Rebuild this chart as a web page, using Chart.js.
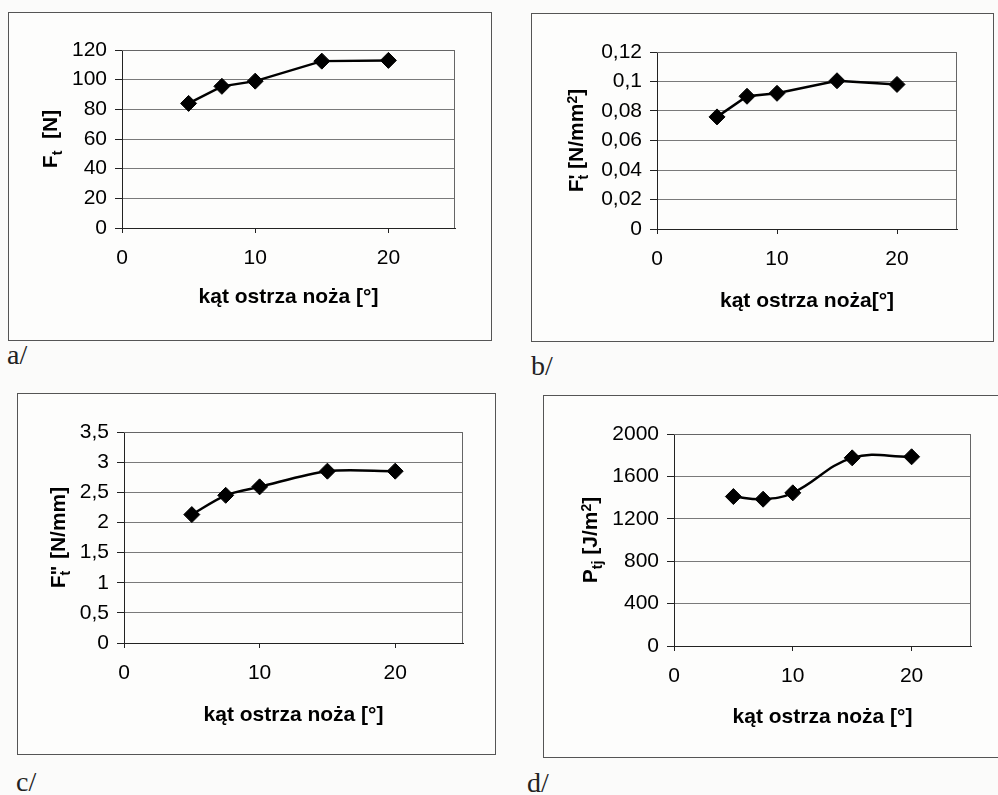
<!DOCTYPE html>
<html>
<head>
<meta charset="utf-8">
<script src="https://cdn.jsdelivr.net/npm/chart.js@4.4.0/dist/chart.umd.min.js"></script>
<style>
  html, body { margin: 0; padding: 0; background: #fbfbfa; }
  body { width: 998px; height: 795px; position: relative; overflow: hidden; }
  .ramka { position: absolute; border: 1px solid #555; background: #fdfdfc; }
  .ramka canvas { display: block; }
  .litera { position: absolute; font: 28px 'Liberation Serif', 'Times New Roman', serif; color: #222; line-height: 1; }
</style>
</head>
<body>
<div class="litera" style="left:7px;top:341px">a/</div>
<div class="litera" style="left:531px;top:352px">b/</div>
<div class="litera" style="left:16px;top:768px">c/</div>
<div class="litera" style="left:527px;top:769px">d/</div>

<script>
// kąt ostrza noża [°]
const katy = [5, 7.5, 10, 15, 20];
const xTicks = [0, 10, 20];
const xMax = 25;

// a/ Ft [N]
const silaFt = [84, 95.5, 99, 112.5, 113];
const ticksA = [0, 20, 40, 60, 80, 100, 120];

// b/ Ft' [N/mm2]
const silaFt1 = [0.076, 0.090, 0.092, 0.1005, 0.098];
const ticksB = [0, 0.02, 0.04, 0.06, 0.08, 0.1, 0.12];

// c/ Ft'' [N/mm]
const silaFt2 = [2.13, 2.45, 2.59, 2.85, 2.85];
const ticksC = [0, 0.5, 1, 1.5, 2, 2.5, 3, 3.5];

// d/ Ptj [J/m2]
const pracaPtj = [1410, 1385, 1445, 1775, 1785];
const ticksD = [0, 400, 800, 1200, 1600, 2000];

const rodzina = "'Liberation Sans', Arial, sans-serif";
const przecinek = v => String(v).replace('.', ',');

// tytuł osi Y z indeksami dolnymi / górnymi
const yTytul = {
  id: 'yTytul',
  afterDraw(chart, args, opts) {
    const ctx = chart.ctx;
    const a = chart.chartArea;
    const font = p => 'bold ' + (p.s ? 14 : 21) + 'px ' + rodzina;
    let w = 0;
    opts.parts.forEach(p => {
      ctx.font = font(p);
      p.w = ctx.measureText(p.t).width;
      if (!p.keep) w += p.w;
    });
    ctx.save();
    ctx.translate(opts.x, (a.top + a.bottom) / 2);
    ctx.rotate(-Math.PI / 2);
    ctx.fillStyle = '#000';
    ctx.textBaseline = 'alphabetic';
    let x = -w / 2;
    opts.parts.forEach(p => {
      ctx.font = font(p);
      const dy = p.s === 'sub' ? 5 : p.s === 'sup' ? -6 : 0;
      ctx.fillText(p.t, x, dy);
      if (!p.keep) x += p.w;
    });
    ctx.restore();
  }
};

// szara ramka obszaru wykresu
const obszarRamka = {
  id: 'obszarRamka',
  beforeDatasetsDraw(chart) {
    const ctx = chart.ctx;
    const a = chart.chartArea;
    ctx.save();
    ctx.strokeStyle = '#666';
    ctx.lineWidth = 1;
    ctx.beginPath();
    ctx.moveTo(a.left, a.top + 0.5);
    ctx.lineTo(a.right - 0.5, a.top + 0.5);
    ctx.lineTo(a.right - 0.5, a.bottom);
    ctx.stroke();
    ctx.restore();
  }
};

function wykres(o) {
  const [x0, y0, x1, y1] = o.ramka;
  const [px0, py0, px1, py1] = o.obszar;
  const w = x1 - x0 - 1, h = y1 - y0 - 1;
  const box = document.createElement('div');
  box.className = 'ramka';
  box.style.cssText = `left:${x0}px;top:${y0}px;width:${w}px;height:${h}px`;
  const cv = document.createElement('canvas');
  cv.width = w; cv.height = h;
  cv.style.width = w + 'px'; cv.style.height = h + 'px';
  box.appendChild(cv);
  document.body.appendChild(box);

  const yW = px0 - x0 - 1;
  const xH = y1 - py1;

  new Chart(cv, {
    type: 'line',
    data: {
      labels: katy,
      datasets: [{
        data: katy.map((k, i) => ({ x: k, y: o.dane[i] })),
        borderColor: '#000',
        backgroundColor: '#000',
        borderWidth: 2.5,
        tension: o.tension,
        pointStyle: 'rectRot',
        pointRadius: 8,
        pointBorderWidth: 1,
        pointBackgroundColor: '#000',
        pointBorderColor: '#000'
      }]
    },
    options: {
      responsive: false,
      animation: false,
      layout: { padding: { top: py0 - y0 - 1, right: x1 - px1, left: 0, bottom: 0 } },
      plugins: {
        legend: { display: false },
        tooltip: { enabled: false },
        yTytul: { parts: o.yParts, x: o.yTytulX - x0 - 1 }
      },
      scales: {
        x: {
          type: 'linear',
          min: 0,
          max: xMax,
          afterBuildTicks: s => { s.ticks = xTicks.map(v => ({ value: v })); },
          afterFit: s => { s.height = xH; },
          grid: { drawOnChartArea: false, tickLength: 5, tickColor: '#222' },
          border: { color: '#222', width: 1 },
          ticks: { color: '#000', padding: 13, maxRotation: 0, font: { family: rodzina, size: 21 } },
          title: {
            display: true,
            text: o.xTytul,
            color: '#000',
            padding: { top: 0, bottom: y1 - 12 - o.xTytulY },
            font: { family: rodzina, size: 21, weight: 'bold' }
          }
        },
        y: {
          min: o.yTicks[0],
          max: o.yTicks[o.yTicks.length - 1],
          afterBuildTicks: s => { s.ticks = o.yTicks.map(v => ({ value: v })); },
          afterFit: s => { s.width = yW; },
          grid: { color: '#7a7a7a', lineWidth: 1, tickLength: 7, tickColor: '#222' },
          border: { color: '#222', width: 1 },
          ticks: {
            color: '#000',
            padding: 8,
            font: { family: rodzina, size: 21 },
            callback: o.format
          }
        }
      }
    },
    plugins: [obszarRamka, yTytul]
  });
}

wykres({
  ramka: [8, 12, 491, 340], obszar: [122, 50, 455, 228],
  dane: silaFt, yTicks: ticksA, format: v => String(v), tension: 0,
  yParts: [{ t: 'F' }, { t: 't', s: 'sub' }, { t: '  [N]' }], yTytulX: 57,
  xTytul: 'kąt ostrza noża [°]', xTytulY: 298
});

wykres({
  ramka: [531, 13, 993, 341], obszar: [657, 52, 957, 229],
  dane: silaFt1, yTicks: ticksB, format: przecinek, tension: 0,
  yParts: [{ t: 'F' }, { t: "'", keep: true }, { t: 't', s: 'sub' }, { t: ' [N/mm' }, { t: '2', s: 'sup' }, { t: ']' }],
  yTytulX: 583,
  xTytul: 'kąt ostrza noża[°]', xTytulY: 302
});

wykres({
  ramka: [17, 393, 495, 754], obszar: [124, 432, 463, 643],
  dane: silaFt2, yTicks: ticksC, format: przecinek, tension: 0.3,
  yParts: [{ t: 'F' }, { t: '"', keep: true }, { t: 't', s: 'sub' }, { t: '  [N/mm]' }], yTytulX: 65,
  xTytul: 'kąt ostrza noża [°]', xTytulY: 716
});

wykres({
  ramka: [543, 395, 1000, 757], obszar: [674, 434, 971, 646],
  dane: pracaPtj, yTicks: ticksD, format: v => String(v), tension: 0.4,
  yParts: [{ t: 'P' }, { t: 'tj', s: 'sub' }, { t: ' [J/m' }, { t: '2', s: 'sup' }, { t: ']' }], yTytulX: 597,
  xTytul: 'kąt ostrza noża [°]', xTytulY: 718
});
</script>
</body>
</html>
